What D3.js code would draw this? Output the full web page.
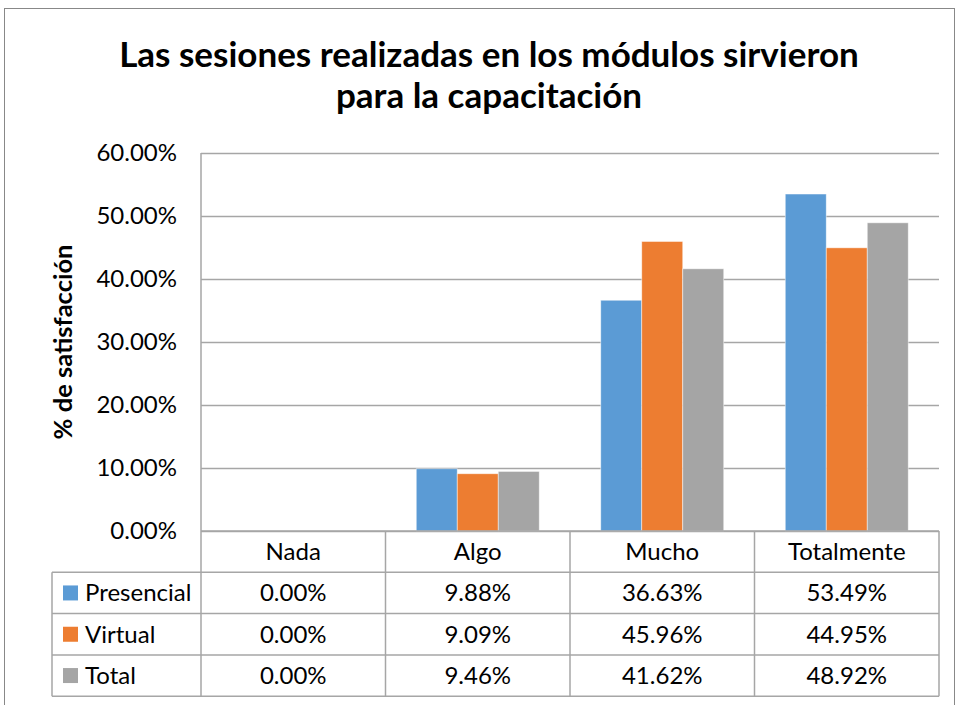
<!DOCTYPE html>
<html>
<head>
<meta charset="utf-8">
<script src="https://cdn.jsdelivr.net/npm/d3@7"></script>
<style>
  body { margin: 0; background: #fff; }
  svg { display: block; font-family: Lato, "Open Sans", sans-serif; }
</style>
</head>
<body>
<svg id="chart" width="959" height="705"></svg>
<script>
const categories = ['Nada', 'Algo', 'Mucho', 'Totalmente'];
const seriesNames = ['Presencial', 'Virtual', 'Total'];
const presencial = [0, 9.88, 36.63, 53.49];
const virtual = [0, 9.09, 45.96, 44.95];
const total = [0, 9.46, 41.62, 48.92];
const yTicks = [0, 10, 20, 30, 40, 50, 60];
const colors = ['#5b9bd5', '#ed7d31', '#a5a5a5'];

const series = [presencial, virtual, total];

const svg = d3.select('#chart');
const margin = {left: 201, right: 20, top: 153, plotBottom: 531};
const width = +svg.attr('width');
const rowH = 41.3;

// outer frame
svg.append('rect')
  .attr('x', 4.5).attr('y', 8.5)
  .attr('width', 950).attr('height', 705)
  .attr('fill', 'none')
  .attr('stroke', '#888');

// title
svg.append('text')
  .attr('x', 489).attr('y', 67)
  .attr('text-anchor', 'middle')
  .attr('font-weight', 'bold')
  .attr('font-size', 35)
  .text('Las sesiones realizadas en los módulos sirvieron');
svg.append('text')
  .attr('x', 489).attr('y', 108)
  .attr('text-anchor', 'middle')
  .attr('font-weight', 'bold')
  .attr('font-size', 35)
  .text('para la capacitación');

const x = d3.scaleBand()
  .domain(categories)
  .range([margin.left, width - margin.right]);

const y = d3.scaleLinear()
  .domain([0, 60])
  .range([margin.plotBottom, margin.top]);

const xInner = d3.scaleBand()
  .domain(seriesNames)
  .range([0, x.bandwidth()])
  .paddingOuter(0.75)
  .paddingInner(0);

// gridlines
svg.append('g')
  .selectAll('line')
  .data(yTicks)
  .join('line')
  .attr('x1', margin.left).attr('x2', width - margin.right)
  .attr('y1', (d) => Math.round(y(d)) + 0.5)
  .attr('y2', (d) => Math.round(y(d)) + 0.5)
  .attr('stroke', '#a6a6a6')
  .attr('stroke-width', 1.5);

// y axis labels
const yAxis = svg.append('g')
  .attr('transform', `translate(${margin.left},0)`)
  .call(d3.axisLeft(y).tickValues(yTicks).tickSize(0).tickPadding(24)
    .tickFormat((d) => d.toFixed(2) + '%'));
yAxis.select('.domain').remove();
yAxis.selectAll('text')
  .attr('font-family', 'Lato, sans-serif')
  .attr('font-size', 24)
  .attr('fill', '#000');

svg.append('text')
  .attr('transform', `translate(72,342) rotate(-90)`)
  .attr('text-anchor', 'middle')
  .attr('font-weight', 'bold')
  .attr('font-size', 25.5)
  .text('% de satisfacción');

// bars
const groups = svg.append('g')
  .selectAll('g')
  .data(seriesNames)
  .join('g')
  .attr('fill', (d, i) => colors[i]);

groups.selectAll('rect')
  .data((name, i) => series[i].map((v, j) => ({name, cat: categories[j], v})))
  .join('rect')
  .attr('x', (d) => x(d.cat) + xInner(d.name))
  .attr('width', xInner.bandwidth())
  .attr('y', (d) => y(d.v))
  .attr('height', (d) => y(0) - y(d.v))
  .attr('stroke', '#fff')
  .attr('stroke-opacity', 0.6)
  .attr('stroke-width', 0.8);

// data table
const tableLeft = 52;
const tableRight = width - margin.right;
const tableTop = margin.plotBottom;
const rowsY = d3.range(5).map((i) => tableTop + i * rowH);
const grid = svg.append('g')
  .attr('stroke', '#a6a6a6')
  .attr('stroke-width', 1.5);

// axis line + header bottom + rows
grid.append('line')
  .attr('x1', margin.left).attr('x2', tableRight)
  .attr('y1', tableTop).attr('y2', tableTop);
grid.selectAll('.hrow')
  .data(rowsY.slice(1))
  .join('line')
  .attr('class', 'hrow')
  .attr('x1', tableLeft).attr('x2', tableRight)
  .attr('y1', (d) => d).attr('y2', (d) => d);

const vlines = categories.map((c) => x(c)).concat([tableRight]);
grid.selectAll('.vcol')
  .data(vlines)
  .join('line')
  .attr('class', 'vcol')
  .attr('x1', (d) => d).attr('x2', (d) => d)
  .attr('y1', (d, i) => i === 0 ? margin.top : tableTop)
  .attr('y2', rowsY[4]);
grid.append('line')
  .attr('x1', tableLeft).attr('x2', tableLeft)
  .attr('y1', rowsY[1]).attr('y2', rowsY[4]);

// header labels
svg.append('g')
  .selectAll('text')
  .data(categories)
  .join('text')
  .attr('x', (d) => x(d) + x.bandwidth() / 2)
  .attr('y', tableTop + rowH / 2 + 8.5)
  .attr('text-anchor', 'middle')
  .attr('font-size', 24)
  .text((d) => d);

// rows
seriesNames.forEach((name, i) => {
  const cy = rowsY[i + 1] + rowH / 2;
  svg.append('rect')
    .attr('x', 63).attr('y', cy - 7.5)
    .attr('width', 15).attr('height', 15)
    .attr('fill', colors[i]);
  svg.append('text')
    .attr('x', 85).attr('y', cy + 8.5)
    .attr('font-size', 24)
    .text(name);
  svg.append('g')
    .selectAll('text')
    .data(series[i])
    .join('text')
    .attr('x', (d, j) => x(categories[j]) + x.bandwidth() / 2)
    .attr('y', cy + 8.5)
    .attr('text-anchor', 'middle')
    .attr('font-size', 24)
    .text((d) => d.toFixed(2) + '%');
});
</script>
</body>
</html>
